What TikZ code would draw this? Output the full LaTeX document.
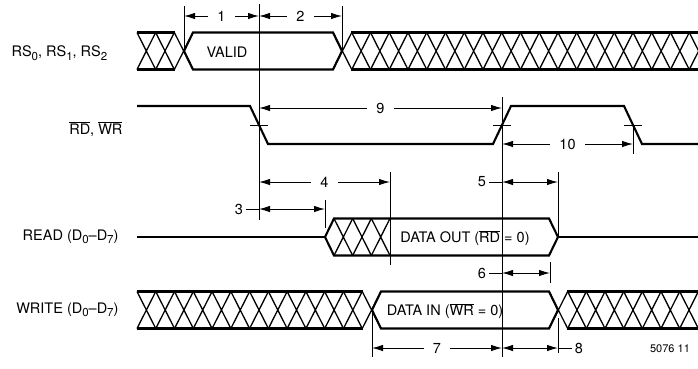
\documentclass[tikz,border=0pt]{standalone}
\usepackage{fontspec}
\setmainfont{TeX Gyre Heros}
\usetikzlibrary{arrows.meta}

\newcommand{\ovl}[1]{\ensuremath{\overline{\mbox{#1}}}}
\newcommand{\lo}[1]{\raisebox{-3.5pt}{\fontsize{11.5}{12}\selectfont #1}}
% crossed bus lines: x from, x to, number of crosses, y middle
\newcommand{\xhatch}[4]{%
  \pgfmathsetmacro\hp{(#2-#1)/#3}
  \foreach \i in {1,...,#3}{
    \draw[hatch] ({#1+(\i-1)*\hp},{#4-18.5}) -- ({#1+\i*\hp},{#4+18.5})
                 ({#1+(\i-1)*\hp},{#4+18.5}) -- ({#1+\i*\hp},{#4-18.5});
  }}

\begin{document}
\begin{tikzpicture}[x=1pt, y=-1pt,
    sig/.style={line width=2.1pt},
    hatch/.style={line width=1.3pt},
    ext/.style={line width=1pt},
    dim/.style={line width=1pt, {Latex[length=11pt,width=6.5pt]}-{Latex[length=11pt,width=6.5pt]}},
    gap/.style={fill=white, inner xsep=9pt, inner ysep=1pt},
    every node/.style={font=\fontsize{14.5}{16}\selectfont}]

    \clip (0,0) rectangle (698,368);

    % signal names
    \node[anchor=west] (rs) at (8,53) {RS\lo{0}, RS\lo{1}, RS\lo{2}};
    \node[anchor=east] (rdwr) at (126,129) {\ovl{RD}, \ovl{WR}};
    \node[anchor=east] (read) at (122,237) {READ (D\lo{0}--D\lo{7})};
    \node[anchor=east] (write) at (122,310) {WRITE (D\lo{0}--D\lo{7})};

    % RS0..RS2
    \xhatch{137}{193}{3}{51}
    \xhatch{333}{708}{20}{51}
    \draw[sig] (137,32.5) -- (175,32.5) (137,69.5) -- (175,69.5);
    \draw[sig] (351,32.5) -- (698,32.5) (351,69.5) -- (698,69.5);
    \draw[sig] (184,51) -- (193,32.5) -- (333,32.5) -- (342,51) -- (333,69.5) -- (193,69.5) -- cycle;
    \node (valid) at (227,52) {VALID};

    % RD, WR
    \draw[sig] (137,106) -- (250,106) -- (268,144) -- (493,144) -- (511,106)
      -- (624,106) -- (642,144) -- (698,144);
    \foreach \x in {259,502,633}
      \draw[ext] (\x-9,125) -- (\x+9,125);

    % READ
    \draw[sig] (137,237) -- (325,237);
    \xhatch{334}{390}{3}{237}
    \draw[sig] (325,237) -- (334,218.5) -- (549,218.5) -- (558,237) -- (549,255.5) -- (334,255.5) -- cycle;
    \draw[sig] (558,237) -- (698,237);
    \node (dout) at (465,238) {DATA OUT (\ovl{RD} = 0)};

    % WRITE
    \xhatch{137}{381}{13}{310}
    \xhatch{549}{717}{9}{310}
    \draw[sig] (137,291.5) -- (363,291.5) (137,328.5) -- (363,328.5);
    \draw[sig] (567,291.5) -- (698,291.5) (567,328.5) -- (698,328.5);
    \draw[sig] (372,310) -- (381,291.5) -- (549,291.5) -- (558,310) -- (549,328.5) -- (381,328.5) -- cycle;
    \node (din) at (445,311) {DATA IN (\ovl{WR} = 0)};

    % extension lines
    \foreach \x/\ya/\yb in {184/6/51, 259/4/220, 342/6/51, 502/97/357, 633/125/154,
                            390/172/265, 325/200/228, 558/172/237, 550/262/283,
                            372/310/357, 558/318/353}
      \draw[ext] (\x,\ya) -- (\x,\yb);

    % timing numbers, label in the line
    \foreach \n/\a/\b/\y/\t in {d1/184/259/16/1, d2/259/342/16/2, d9/259/502/108/9,
                                d10/502/633/144/10, d4/259/390/182/4, d7/372/502/348/7}
    {
      \coordinate (\n a) at (\a,\y);
      \coordinate (\n b) at (\b,\y);
      \draw[dim] (\n a) -- node[gap] (\n) {\t} (\n b);
    }

    % timing numbers, label beside the line
    \foreach \n/\a/\b/\y/\t in {d3/259/325/209/3, d5/502/558/182/5, d6/502/550/273/6}
    {
      \coordinate (\n a) at (\a,\y);
      \coordinate (\n b) at (\b,\y);
      \draw[dim] (\n a) -- (\n b);
      \node[inner sep=3pt] (\n) at (\a-20,\y) {\t};
      \draw[ext] (\n) -- (\n a);
    }
    \coordinate (d8a) at (502,348);
    \coordinate (d8b) at (558,348);
    \draw[dim] (d8a) -- (d8b);
    \node[inner sep=3pt] (d8) at (579,348) {8};
    \draw[ext] (d8b) -- (d8);

    \node[font=\fontsize{11}{13}\selectfont] (fig) at (670,349) {5076 11};
\end{tikzpicture}
\end{document}
